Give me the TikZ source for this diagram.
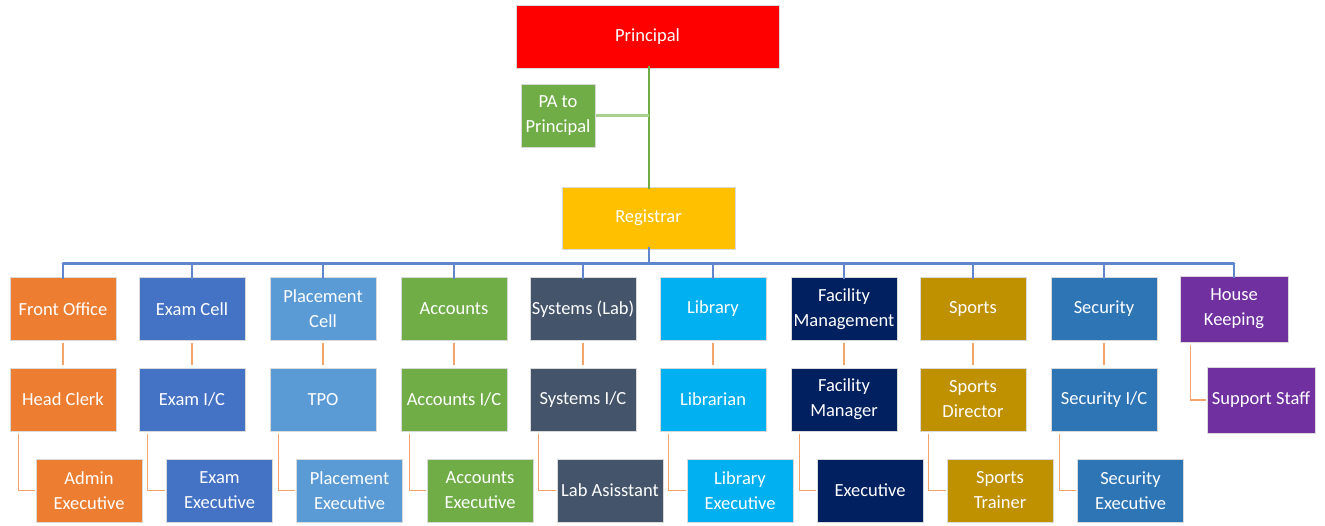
\documentclass[tikz,border=0pt]{standalone}
\usepackage{fontspec}
\setmainfont{Carlito}
\usetikzlibrary{calc}
\definecolor{cred}{HTML}{FF0000}
\definecolor{cgreen}{HTML}{70AD47}
\definecolor{clgreen}{HTML}{A9D18E}
\definecolor{cgold}{HTML}{FFC000}
\definecolor{corange}{HTML}{ED7D31}
\definecolor{corangeline}{HTML}{F4A46A}
\definecolor{cblue}{HTML}{4472C4}
\definecolor{clblue}{HTML}{5B9BD5}
\definecolor{cslate}{HTML}{44546A}
\definecolor{ccyan}{HTML}{00B0F0}
\definecolor{cnavy}{HTML}{002060}
\definecolor{cmustard}{HTML}{BF9000}
\definecolor{csec}{HTML}{2E75B6}
\definecolor{cpurple}{HTML}{7030A0}
\tikzset{
  box/.style={draw=white!85!black, line width=0.6pt, text=white, align=center,
    inner sep=0pt, minimum width=106pt, minimum height=63pt,
    font=\fontsize{18.5}{25}\selectfont},
  busline/.style={draw=cblue!85!white, line width=2.6pt},
  dropline/.style={draw=cblue!85!white, line width=1.4pt},
  colline/.style={draw=corangeline, line width=1.5pt},
}
\begin{document}
\begin{tikzpicture}[x=1pt,y=-1pt]
\useasboundingbox (0,0) rectangle (1325,526);
% top
\node[box, fill=cred, minimum width=263pt] (principal) at (647.5,36.5) {Principal};
\node[box, fill=cgreen, minimum width=74pt] (pa) at (558,115.5) {PA to\\Principal};
\node[box, fill=cgold, minimum width=173pt, minimum height=62pt] (registrar) at (648.5,218) {Registrar};
\coordinate (spine) at ([xshift=1.5pt]principal.south);
\draw[draw=cgreen, line width=1.4pt] ([yshift=2pt]spine) -- ([yshift=-2pt]spine |- registrar.north);
\draw[draw=clgreen, line width=2.4pt] ([xshift=1pt]pa.east) -- (pa.east -| spine);
% level 1
\node[box, fill=corange] (c1) at (63,309) {Front Office};
\node[box, fill=cblue] (c2) at (192,309) {Exam Cell};
\node[box, fill=clblue] (c3) at (323,309) {Placement\\Cell};
\node[box, fill=cgreen] (c4) at (454,309) {Accounts};
\node[box, fill=cslate] (c5) at (583,309) {Systems (Lab)};
\node[box, fill=ccyan] (c6) at (713,309) {Library};
\node[box, fill=cnavy] (c7) at (844,309) {Facility\\Management};
\node[box, fill=cmustard] (c8) at (973,309) {Sports};
\node[box, fill=csec] (c9) at (1104,309) {Security};
\node[box, fill=cpurple, minimum width=108pt, minimum height=66pt] (c10) at (1234,309) {House\\Keeping};
% level 2
\node[box, fill=corange] (h1) at (63,399.5) {Head Clerk};
\node[box, fill=cblue] (h2) at (192,399.5) {Exam I/C};
\node[box, fill=clblue] (h3) at (323,399.5) {TPO};
\node[box, fill=cgreen] (h4) at (454,399.5) {Accounts I/C};
\node[box, fill=cslate] (h5) at (583,399.5) {Systems I/C};
\node[box, fill=ccyan] (h6) at (713,399.5) {Librarian};
\node[box, fill=cnavy] (h7) at (844,399.5) {Facility\\Manager};
\node[box, fill=cmustard] (h8) at (973,399.5) {Sports\\Director};
\node[box, fill=csec] (h9) at (1104,399.5) {Security I/C};
\node[box, fill=cpurple, minimum width=108pt, minimum height=66pt] (h10) at (1261,400) {Support Staff};
% level 3
\node[box, fill=corange] (e1) at (89,490.5) {Admin\\Executive};
\node[box, fill=cblue] (e2) at (219.5,490.5) {Exam\\Executive};
\node[box, fill=clblue] (e3) at (349.5,490.5) {Placement\\Executive};
\node[box, fill=cgreen] (e4) at (480,490.5) {Accounts\\Executive};
\node[box, fill=cslate] (e5) at (610,490.5) {Lab Asisstant};
\node[box, fill=ccyan] (e6) at (740,490.5) {Library\\Executive};
\node[box, fill=cnavy] (e7) at (870,490.5) {Executive};
\node[box, fill=cmustard] (e8) at (1000,490.5) {Sports\\Trainer};
\node[box, fill=csec] (e9) at (1130.5,490.5) {Security\\Executive};
% bus
\coordinate (busy) at (0,263.5);
\draw[busline, line width=2pt] ([yshift=2.5pt]registrar.south) -- (registrar.south |- busy);
\draw[busline, line cap=round] (c1.north |- busy) -- (c10.north |- busy);
\foreach \i in {1,...,10} {
  \draw[dropline] ([yshift=-2pt]c\i.north) -- (c\i.north |- busy);
}
% column connectors
\foreach \i in {1,...,9} {
  \draw[colline] ([yshift=-2.5pt]c\i.south) -- ([yshift=2.5pt]h\i.north);
  \draw[colline] ([xshift=9pt,yshift=-2.5pt]h\i.south west) |- ([xshift=-1pt]e\i.west);
}
\draw[colline] ([xshift=11pt,yshift=-2.5pt]c10.south west) |- ([xshift=-1pt]h10.west);
\end{tikzpicture}
\end{document}
